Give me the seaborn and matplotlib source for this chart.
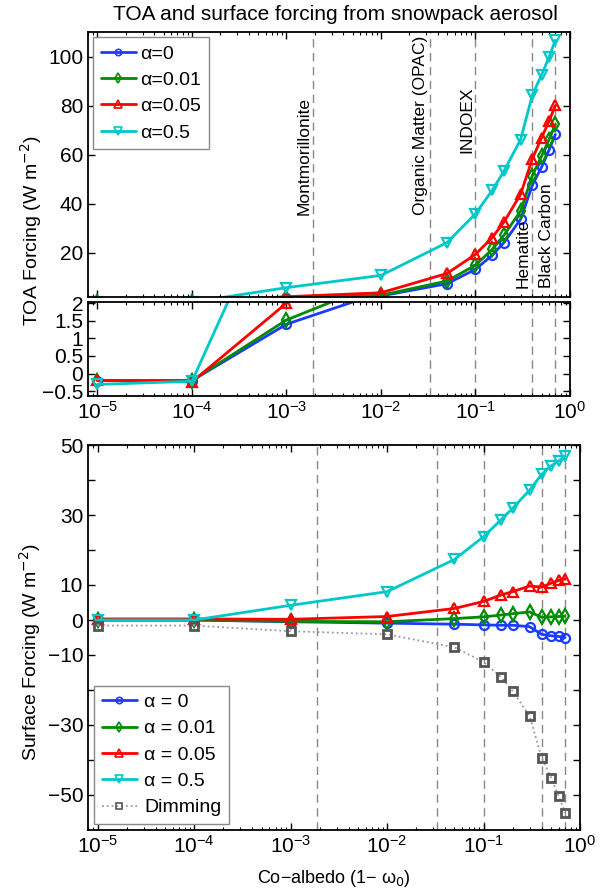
"""
TOA and surface forcing from snowpack aerosol, as a function of co-albedo.
Broken TOA axis on top (two panels), surface forcing below.
"""

import matplotlib

matplotlib.use("Agg")
import matplotlib.pyplot as plt
import numpy as np
import seaborn as sns
from matplotlib.ticker import LogLocator, NullFormatter

# ==============================================================================
# DATA
# ==============================================================================
coalbedo = [1e-5, 1e-4, 1e-3, 1e-2, 0.05, 0.1, 0.15, 0.2, 0.3, 0.4, 0.5, 0.6, 0.7]

toa_a0 = [-0.2, -0.2, 1.40, 2.3, 7.3, 13.2, 18.9, 24.1, 33.6, 47.6, 54.9, 61.9, 68.3]
toa_a001 = [-0.2, -0.2, 1.52, 2.6, 8.4, 14.9, 21.3, 27.1, 37.0, 51.5, 59.4, 66.2, 72.4]
toa_a005 = [-0.19, -0.24, 2.0, 3.6, 11.5, 19.3, 26.1, 32.5, 43.8, 58.4, 66.9, 73.7, 80.1]
toa_a05 = [-0.31, -0.22, 5.7, 10.7, 24.1, 35.9, 45.4, 53.3, 66.2, 84.4, 92.6, 99.8, 106.8]

sfc_a0 = [0.0, 0.0, -0.5, -0.9, -1.2, -1.4, -1.5, -1.5, -1.9, -4.1, -4.5, -4.7, -5.0]
sfc_a001 = [0.0, 0.0, -0.4, -0.5, 0.4, 0.9, 1.4, 1.8, 2.3, 0.8, 0.9, 1.0, 1.1]
sfc_a005 = [0.3, 0.3, 0.2, 1.0, 3.3, 5.3, 7.1, 8.1, 9.7, 9.4, 10.5, 11.3, 11.7]
sfc_a05 = [0.0, 0.0, 4.2, 8.1, 17.3, 23.8, 28.5, 31.9, 37.1, 41.6, 44.0, 45.4, 46.9]
dimming = [-1.6, -1.6, -3.2, -4.1, -7.8, -12.0, -16.2, -20.3, -27.4, -39.3, -45.0, -50.3, -55.0]

# reference aerosol co-albedos (dashed lines)
ref_names = ["Montmorillonite", "Organic Matter (OPAC)", "INDOEX", "Hematite", "Black Carbon"]
ref_coalbedo = [0.0019, 0.033, 0.1, 0.4, 0.7]
ref_label_y = [35.2, 35.2, 60.9, 5.4, 5.4]

alpha_vals = ["0", "0.01", "0.05", "0.5"]
# ==============================================================================

COLORS = ["#1a3cff", "#008c00", "#ff0000", "#00c8c8"]
MARKERS = ["o", "d", "^", "v"]
MSIZES = [6.5, 7, 7.5, 7.5]

sns.set_style("ticks")
plt.rcParams["font.family"] = ["Liberation Sans", "DejaVu Sans"]
plt.rcParams["mathtext.fontset"] = "dejavusans"
plt.rcParams.update(
    {
        "xtick.direction": "in",
        "ytick.direction": "in",
        "xtick.top": True,
        "ytick.right": True,
        "axes.edgecolor": "black",
        "axes.linewidth": 1.3,
        "xtick.color": "black",
        "ytick.color": "black",
        "text.color": "black",
        "axes.labelcolor": "black",
    }
)

fig = plt.figure(figsize=(6.03, 8.91), dpi=100)
W, H = 603.0, 891.0


def px_axes(left, top, right, bottom):
    return fig.add_axes([left / W, 1 - bottom / H, (right - left) / W, (bottom - top) / H])


ax_top = px_axes(88, 32.3, 570, 296.7)
ax_mid = px_axes(88, 301.7, 570, 395.7)
ax_sfc = px_axes(88, 445, 580, 830)

toa_series = [toa_a0, toa_a001, toa_a005, toa_a05]
sfc_series = [sfc_a0, sfc_a001, sfc_a005, sfc_a05]


def line_kws(col, ms):
    return dict(linewidth=2.0, markersize=ms, markerfacecolor="none",
                markeredgecolor=col, markeredgewidth=1.6)


def thin_legend_markers(leg):
    for h in leg.legend_handles:
        h.set_markeredgewidth(1.2)


for ax in (ax_top, ax_mid, ax_sfc):
    ax.set_xscale("log")
    ax.set_xlim(10 ** -5.1, 1)
    for xr in ref_coalbedo:
        ax.axvline(xr, color="#888888", linestyle=(0, (6, 4)), linewidth=1.0, zorder=0)
    ax.xaxis.set_major_locator(LogLocator(base=10, numticks=10))
    ax.xaxis.set_minor_locator(LogLocator(base=10, subs=np.arange(2, 10), numticks=20))
    ax.xaxis.set_minor_formatter(NullFormatter())
    ax.tick_params(which="major", length=5, width=1.0, labelsize=15)
    ax.tick_params(which="minor", length=2.5, width=0.8)

# TOA panels (broken axis)
for ax in (ax_top, ax_mid):
    for vals, col, mk, ms, a in zip(toa_series, COLORS, MARKERS, MSIZES, alpha_vals):
        sns.lineplot(x=coalbedo, y=vals, ax=ax, color=col, marker=mk,
                     label="\u03b1=" + a, **line_kws(col, ms))

ax_top.set_ylim(2, 110)
ax_top.set_yticks([20, 40, 60, 80, 100])
ax_top.tick_params(axis="x", labelbottom=False)
ax_mid.set_ylim(-0.63, 2.04)
ax_mid.set_yticks([-0.5, 0, 0.5, 1, 1.5, 2])
ax_mid.set_yticklabels(["\u22120.5", "0", "0.5", "1", "1.5", "2"])
ax_mid.get_legend().remove()

leg = ax_top.legend(loc="upper left", fontsize=14, frameon=True, fancybox=False,
                    edgecolor="#888888", framealpha=1, handlelength=1.8,
                    handletextpad=0.25, borderpad=0.4, labelspacing=0.45,
                    markerscale=0.7, borderaxespad=0.25)
thin_legend_markers(leg)

for name, xr, yt in zip(ref_names, ref_coalbedo, ref_label_y):
    ax_top.text(xr / 1.04, yt, name, rotation=90, ha="right", va="bottom",
                fontsize=12.5)

fig.text(31 / W, 1 - 231 / H, "TOA Forcing (W m$^{-2}$)", rotation=90,
         ha="center", va="center", fontsize=14)
fig.text(335 / W, 1 - 14 / H, "TOA and surface forcing from snowpack aerosol",
         ha="center", va="center", fontsize=15)

# Surface panel
for vals, col, mk, ms, a in zip(sfc_series, COLORS, MARKERS, MSIZES, alpha_vals):
    sns.lineplot(x=coalbedo, y=vals, ax=ax_sfc, color=col, marker=mk,
                 label="\u03b1 = " + a, **line_kws(col, ms))
sns.lineplot(x=coalbedo, y=dimming, ax=ax_sfc, color="#999999", linestyle=":",
             linewidth=1.3, marker="s", markersize=5.5, markerfacecolor="none",
             markeredgecolor="#555555", markeredgewidth=2.0, label="Dimming")

ax_sfc.set_ylim(-60, 50)
ax_sfc.set_yticks([50, 40, 30, 20, 10, 0, -10, -20, -30, -40, -50])
ax_sfc.set_yticklabels(["50", "", "30", "", "10", "0", "\u221210", "",
                        "\u221230", "", "\u221250"])
leg2 = ax_sfc.legend(loc="lower left", fontsize=14, frameon=True, fancybox=False,
                     edgecolor="#888888", framealpha=1, handlelength=1.8,
                     handletextpad=0.4, borderpad=0.4, labelspacing=0.45,
                     markerscale=0.7, borderaxespad=0.3)
thin_legend_markers(leg2)
ax_sfc.set_xlabel("Co\u2212albedo (1\u2212 \u03c9$_0$)", fontsize=13, labelpad=8)
fig.text(30 / W, 1 - 652 / H, "Surface Forcing (W m$^{-2}$)", rotation=90,
         ha="center", va="center", fontsize=14)

fig.savefig("out.png", dpi=100, facecolor="white")
